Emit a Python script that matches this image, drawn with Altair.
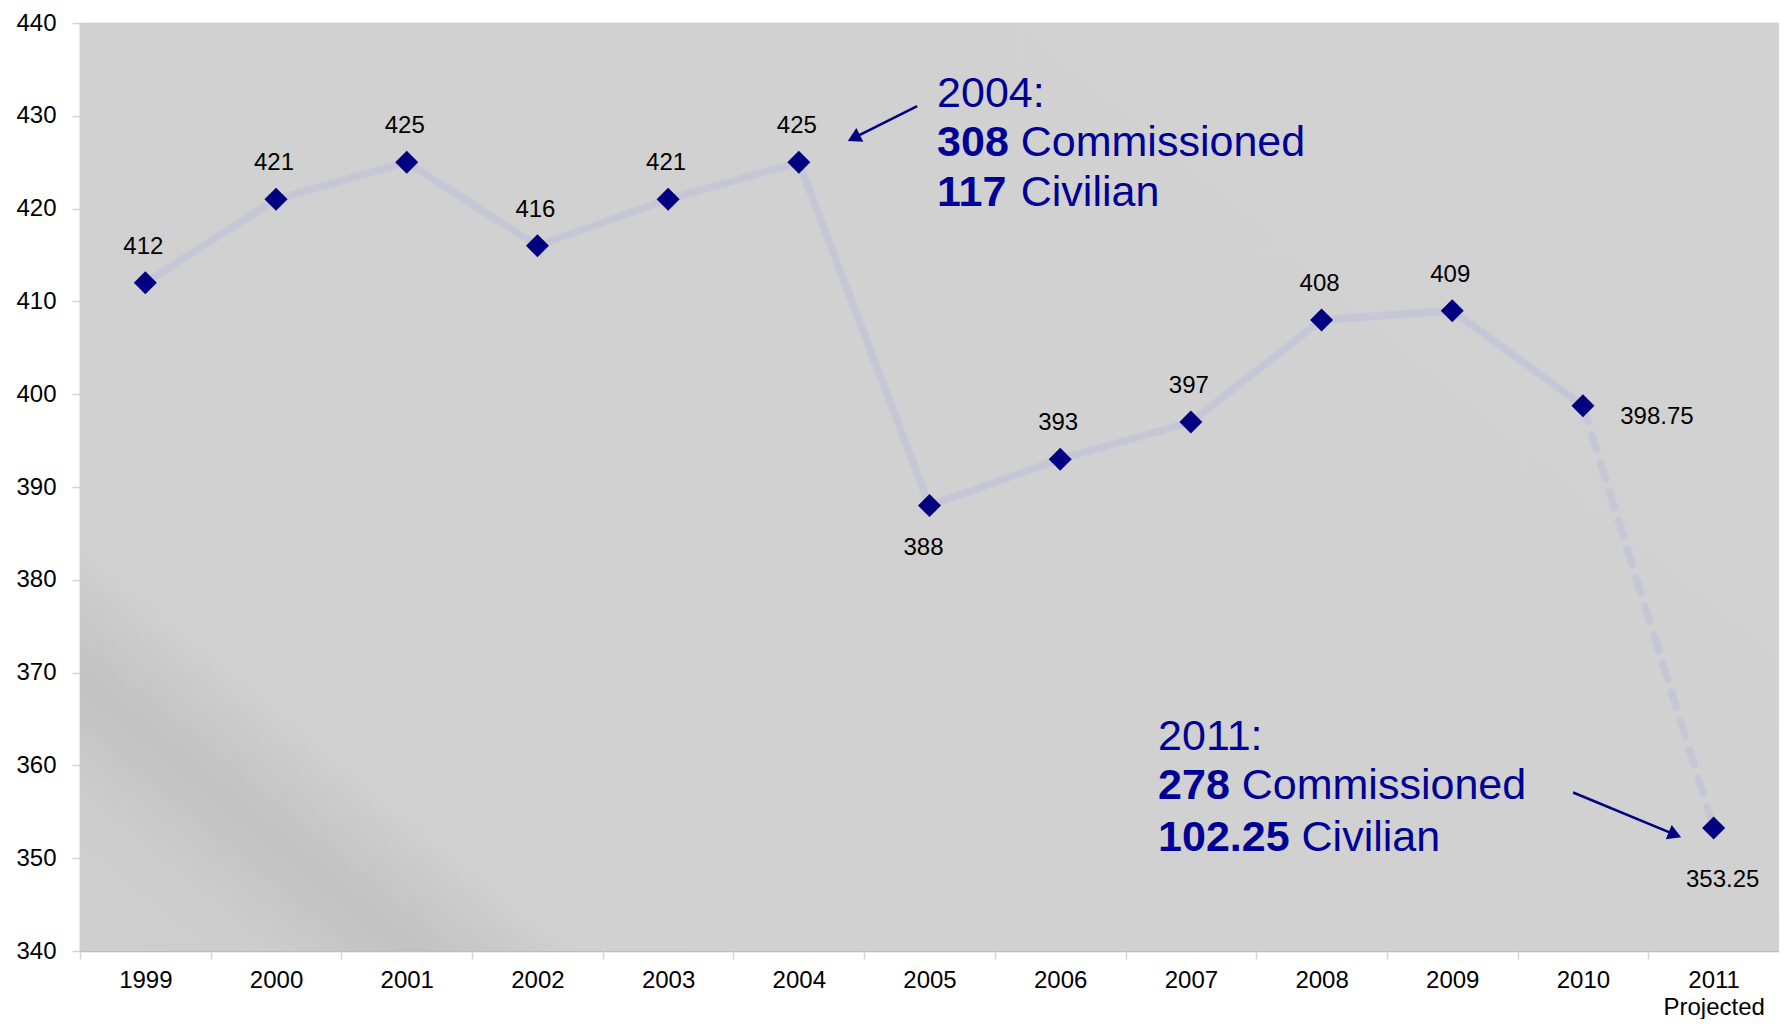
import altair as alt
import pandas as pd

# ---------------- data ----------------
years = ["1999", "2000", "2001", "2002", "2003", "2004", "2005",
         "2006", "2007", "2008", "2009", "2010", "2011"]
axis_labels = ["1999", "2000", "2001", "2002", "2003", "2004", "2005",
               "2006", "2007", "2008", "2009", "2010", "2011|Projected"]
totals = [412, 421, 425, 416, 421, 425, 388, 393, 397, 408, 409, 398.75, 353.25]

# annotation blocks (data coordinates: x = year index, y = value)
ann_headers = ["2004:", "2011:"]
ann_bold = [["308", "117"], ["278", "102.25"]]
ann_rest = [["Commissioned", "Civilian"], ["Commissioned", "Civilian"]]
ann_x = [6.058, 7.749]
ann_y = [[430.93, 425.70, 420.26], [361.66, 356.33, 350.78]]

# arrows: start (x, y) -> head (x2, y2), heading angle of head
arrow_x = [5.906, 10.925]
arrow_y = [431.04, 357.08]
arrow_x2 = [5.421, 11.704]
arrow_y2 = [427.62, 352.54]
arrow_angle = [243.4, 112.5]

# ---------------- layout / style ----------------
W = 1771
H = 1011
FONT = "Liberation Sans"
NAVY = "#000080"
ANN = "#000096"
ANN_SIZE = 43
# Arial-metric advance widths (em) used to place the regular text after the bold number
ADV = {d: 0.556 for d in "0123456789"}
ADV.update({".": 0.278, " ": 0.278})

df = pd.DataFrame({
    "idx": list(range(len(years))),
    "year": years,
    "total": totals,
    "label": [f"{v:g}" for v in totals],
})

labels_js = "[" + ",".join(f"'{s}'" for s in axis_labels) + "]"
label_expr = f"split({labels_js}[datum.value + 0.5], '|')"

x_scale = alt.Scale(domain=[-0.5, len(years) - 0.5], nice=False, zero=False)
y_scale = alt.Scale(domain=[340, 440], nice=False, zero=False)

x_axis = alt.Axis(
    values=[i - 0.5 for i in range(len(years))],
    labelExpr=label_expr, labelOffset=alt.ExprRef(expr=f"width / {2 * len(years)}"),
    grid=False, domain=False, ticks=True, tickColor="#d4d4d4", tickSize=8,
    tickWidth=1.5, labelFont=FONT, labelFontSize=24, labelColor="#000000",
    labelPadding=9, labelLineHeight=27, labelFlush=False,
    labelOverlap=False, title=None,
)
y_axis = alt.Axis(
    values=list(range(340, 441, 10)), grid=True, gridColor="#bdbdbd",
    gridWidth=1.5, domain=True, domainColor="#a9a9a9", domainWidth=1.5,
    tickColor="#d4d4d4", tickSize=8, tickWidth=1.5, labelFont=FONT,
    labelFontSize=24, labelColor="#000000", labelPadding=16,
    labelFlush=False, title=None,
)

X = lambda f="idx": alt.X(f, type="quantitative", scale=x_scale, axis=x_axis)
Y = lambda f="total": alt.Y(f, type="quantitative", scale=y_scale, axis=y_axis)

# background panel with soft diagonal shading in the lower-left corner
bg_df = pd.DataFrame({"x": [-0.5], "x2": [len(years) - 0.5], "y": [340], "y2": [440]})
grad = alt.LinearGradient(
    gradient="linear", x1=0, y1=1, x2=1.155, y2=0.232,
    stops=[
        alt.GradientStop(color="#cfcfcf", offset=0),
        alt.GradientStop(color="#cdcdcd", offset=0.065),
        alt.GradientStop(color="#c5c5c5", offset=0.10),
        alt.GradientStop(color="#c2c2c2", offset=0.118),
        alt.GradientStop(color="#c7c7c7", offset=0.14),
        alt.GradientStop(color="#d0d0d0", offset=0.175),
        alt.GradientStop(color="#d2d2d2", offset=1),
    ],
)
bg = alt.Chart(bg_df).mark_rect(fill=grad, stroke=None).encode(
    x=X("x"), x2="x2", y=Y("y"), y2="y2")

base = alt.Chart(df)

line_solid = base.transform_filter(alt.datum.idx <= 11).mark_line(
    color="#c6c6d6", strokeWidth=7.5).encode(x=X(), y=Y())
line_dash = base.transform_filter(alt.datum.idx >= 11).mark_line(
    color="#c6c6d6", strokeWidth=7.5, strokeDash=[16, 14], strokeCap="round"
).encode(x=X(), y=Y())

points = base.mark_point(shape="diamond", filled=True, size=530, color=NAVY,
                         opacity=1).encode(x=X(), y=Y())

txt = dict(font=FONT, fontSize=24, color="#000000", baseline="middle", align="center")
lab_above = base.transform_filter(
    ~alt.FieldOneOfPredicate(field="idx", oneOf=[6, 11, 12])
).mark_text(dy=-36, dx=-2, **txt).encode(x=X(), y=Y(), text="label")
lab_below = base.transform_filter(alt.datum.idx == 6).mark_text(
    dy=42, dx=-6, **txt).encode(x=X(), y=Y(), text="label")
lab_right = base.transform_filter(alt.datum.idx == 11).mark_text(
    dx=74, dy=11, **txt).encode(x=X(), y=Y(), text="label")
lab_last = base.transform_filter(alt.datum.idx == 12).mark_text(
    dx=9, dy=52, **txt).encode(x=X(), y=Y(), text="label")

# annotations
ann_style = dict(font=FONT, fontSize=ANN_SIZE, color=ANN, align="left",
                 baseline="alphabetic")
ann_layers = []
for k in range(len(ann_headers)):
    hdr = pd.DataFrame({"x": [ann_x[k]], "y": [ann_y[k][0]], "t": [ann_headers[k]]})
    ann_layers.append(alt.Chart(hdr).mark_text(fontWeight="normal", **ann_style)
                      .encode(x=X("x"), y=Y("y"), text="t"))
    for j in range(len(ann_bold[k])):
        line = pd.DataFrame({"x": [ann_x[k]], "y": [ann_y[k][j + 1]],
                             "b": [ann_bold[k][j]], "r": [ann_rest[k][j]]})
        shift = sum(ADV.get(c, 0.556) for c in ann_bold[k][j] + " ") * ANN_SIZE
        ann_layers.append(alt.Chart(line).mark_text(fontWeight="bold", **ann_style)
                          .encode(x=X("x"), y=Y("y"), text="b"))
        ann_layers.append(alt.Chart(line).mark_text(fontWeight="normal", dx=shift,
                                                    **ann_style)
                          .encode(x=X("x"), y=Y("y"), text="r"))

arr_df = pd.DataFrame({"x": arrow_x, "y": arrow_y, "x2": arrow_x2,
                       "y2": arrow_y2, "a": arrow_angle})
arrow_lines = alt.Chart(arr_df).mark_rule(color=NAVY, strokeWidth=2.5).encode(
    x=X("x"), y=Y("y"), x2="x2", y2="y2")
arrow_heads = alt.Chart(arr_df).mark_point(
    shape="triangle-up", filled=True, size=240, color=NAVY, opacity=1
).encode(x=X("x2"), y=Y("y2"), angle=alt.Angle("a", type="quantitative",
                                                  scale=None))

chart = alt.layer(
    bg, line_solid, line_dash, points, lab_above, lab_below, lab_right,
    lab_last, arrow_lines, arrow_heads, *ann_layers,
).properties(
    width=W, height=H,
    autosize=alt.AutoSizeParams(type="fit", contains="padding"),
    padding={"left": 7, "top": 3, "right": 0, "bottom": 0},
    background="#ffffff",
).configure_view(stroke=None)

chart.save("out.html", embed_options={"renderer": "svg", "actions": False})
